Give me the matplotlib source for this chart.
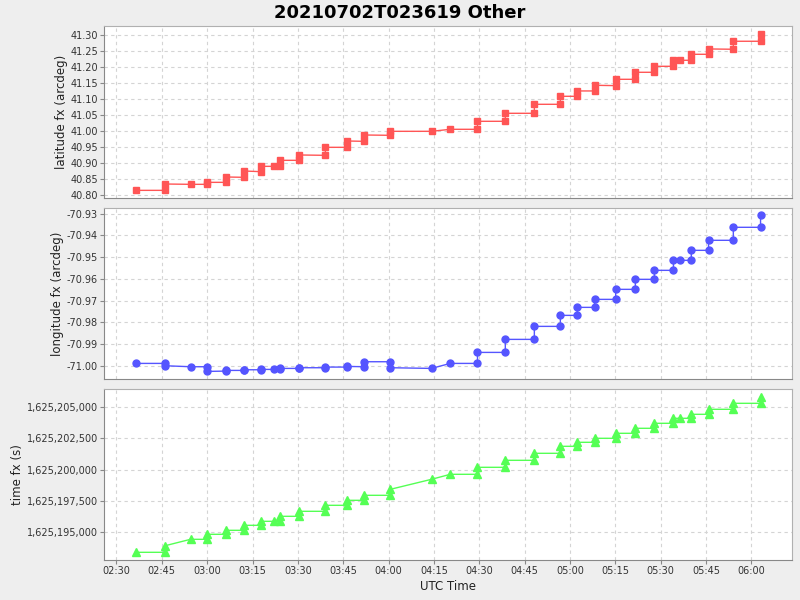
import matplotlib
matplotlib.use("Agg")
import matplotlib.pyplot as plt
import matplotlib.dates as mdates
import matplotlib.ticker as mticker
import pandas as pd

title = "20210702T023619 Other"

# Records in plotting order (times repeat where the value steps)
utc_times = [
    "02:36:19",
    "02:46:12", "02:46:12",
    "02:54:30",
    "03:00:06", "03:00:06",
    "03:06:24", "03:06:24",
    "03:12:18", "03:12:18",
    "03:17:54", "03:17:54",
    "03:22:00",
    "03:24:06", "03:24:06",
    "03:30:30", "03:30:30",
    "03:39:06", "03:39:06",
    "03:46:06", "03:46:06",
    "03:52:00", "03:52:00",
    "04:00:36", "04:00:36",
    "04:14:12",
    "04:20:24",
    "04:29:24", "04:29:24",
    "04:38:36", "04:38:36",
    "04:48:12", "04:48:12",
    "04:56:48", "04:56:48",
    "05:02:24", "05:02:24",
    "05:08:06", "05:08:06",
    "05:15:06", "05:15:06",
    "05:21:36", "05:21:36",
    "05:27:54", "05:27:54",
    "05:34:12", "05:34:12",
    "05:36:24",
    "05:40:06", "05:40:06",
    "05:45:48", "05:45:48",
    "05:54:00", "05:54:00",
    "06:03:00", "06:03:00",
]

latitude_fx = [
    40.8155,
    40.8155, 40.8353,
    40.8343,
    40.8343, 40.8405,
    40.8405, 40.8572,
    40.8562, 40.8759,
    40.8738, 40.8905,
    40.8905,
    40.8905, 40.9093,
    40.9093, 40.9260,
    40.9249, 40.9499,
    40.9499, 40.9697,
    40.9686, 40.9884,
    40.9874, 40.9999,
    40.9999,
    41.0062,
    41.0062, 41.0312,
    41.0312, 41.0562,
    41.0562, 41.0843,
    41.0843, 41.1093,
    41.1093, 41.1260,
    41.1260, 41.1437,
    41.1426, 41.1624,
    41.1624, 41.1843,
    41.1843, 41.2030,
    41.2030, 41.2218,
    41.2218,
    41.2218, 41.2405,
    41.2405, 41.2572,
    41.2562, 41.2812,
    41.2812, 41.3030,
]

longitude_fx = [
    -70.99892,
    -70.99892, -71.00000,
    -71.00045,
    -71.00045, -71.00260,
    -71.00245, -71.00214,
    -71.00214, -71.00184,
    -71.00184, -71.00168,
    -71.00168,
    -71.00168, -71.00122,
    -71.00122, -71.00091,
    -71.00091, -71.00061,
    -71.00061, -71.00030,
    -71.00045, -70.99815,
    -70.99815, -71.00091,
    -71.00122,
    -70.99892,
    -70.99892, -70.99386,
    -70.99386, -70.98787,
    -70.98787, -70.98189,
    -70.98189, -70.97683,
    -70.97683, -70.97315,
    -70.97315, -70.96947,
    -70.96947, -70.96486,
    -70.96486, -70.96026,
    -70.96026, -70.95612,
    -70.95612, -70.95152,
    -70.95152,
    -70.95152, -70.94692,
    -70.94692, -70.94231,
    -70.94231, -70.93633,
    -70.93633, -70.93081,
]

time_fx = [
    1625193370,
    1625193370, 1625193904,
    1625194412,
    1625194412, 1625194813,
    1625194813, 1625195134,
    1625195134, 1625195535,
    1625195535, 1625195856,
    1625195856,
    1625195856, 1625196257,
    1625196257, 1625196658,
    1625196658, 1625197139,
    1625197139, 1625197540,
    1625197540, 1625197941,
    1625197941, 1625198422,
    1625199224,
    1625199625,
    1625199625, 1625200186,
    1625200186, 1625200747,
    1625200747, 1625201309,
    1625201309, 1625201870,
    1625201870, 1625202191,
    1625202191, 1625202512,
    1625202512, 1625202913,
    1625202913, 1625203314,
    1625203314, 1625203715,
    1625203715, 1625204116,
    1625204116,
    1625204116, 1625204436,
    1625204436, 1625204837,
    1625204837, 1625205318,
    1625205318, 1625205800,
]

lat_ticks = [40.80, 40.85, 40.90, 40.95, 41.00, 41.05, 41.10, 41.15, 41.20, 41.25, 41.30]
lon_ticks = [-71.00, -70.99, -70.98, -70.97, -70.96, -70.95, -70.94, -70.93]
time_ticks = [1625195000, 1625197500, 1625200000, 1625202500, 1625205000]

x = pd.to_datetime(["2021-07-02 " + t for t in utc_times])

plt.rcParams['font.family'] = ['DejaVu Sans']
fig = plt.figure(figsize=(8, 6), dpi=100, facecolor='#eeeeee')
fig.suptitle(title, fontsize=13, fontweight='bold', y=0.993)

L, R = 0.1304, 0.99
boxes = [(0.67, 0.9562), (0.3683, 0.6528), (0.0667, 0.3512)]
axes = [fig.add_axes([L, b, R - L, t - b]) for b, t in boxes]

series = [
    (latitude_fx, '#ff5555', 's', 5.0, "latitude fx (arcdeg)", lat_ticks, (40.7916, 41.328),
     mticker.FormatStrFormatter('%.2f')),
    (longitude_fx, '#5555ff', 'o', 5.0, "longitude fx (arcdeg)", lon_ticks, (-71.0061, -70.9276),
     mticker.FormatStrFormatter('%.2f')),
    (time_fx, '#55ff55', '^', 5.2, "time fx (s)", time_ticks, (1625192755, 1625206443),
     mticker.FuncFormatter(lambda v, p: f"{v:,.0f}")),
]

xmin = pd.Timestamp("2021-07-02 02:26:00")
xmax = pd.Timestamp("2021-07-02 06:13:24")

for ax, (vals, col, mk, ms, lab, ticks, ylim, fmt) in zip(axes, series):
    ax.set_facecolor('white')
    ax.plot(x, vals, color=col, lw=1.0, marker=mk, ms=ms, mec=col, mfc=col)
    ax.set_xlim(xmin, xmax)
    ax.set_ylim(*ylim)
    ax.set_yticks(ticks)
    ax.yaxis.set_major_formatter(fmt)
    ax.xaxis.set_major_locator(mdates.MinuteLocator(byminute=[0, 15, 30, 45]))
    ax.xaxis.set_major_formatter(mdates.DateFormatter('%H:%M'))
    ax.grid(True, color='#d4d4d4', ls=(0, (3, 3)), lw=0.8)
    ax.set_axisbelow(True)
    for s in ax.spines.values():
        s.set_color('#b0b0b0')
    ax.spines['left'].set_color('#888888')
    ax.spines['bottom'].set_color('#888888')
    ax.tick_params(axis='both', labelsize=7, labelcolor='#333333', length=3, width=0.8,
                   color='#888888', pad=1.5)
    ax.set_ylabel(lab, fontsize=8.5, color='#222222', labelpad=2)

for ax in axes[:2]:
    ax.tick_params(axis='x', labelbottom=False, length=0)

axes[2].set_xlabel("UTC Time", fontsize=8.5, color='#222222', labelpad=3)

fig.savefig("out.png", dpi=100, facecolor=fig.get_facecolor())
